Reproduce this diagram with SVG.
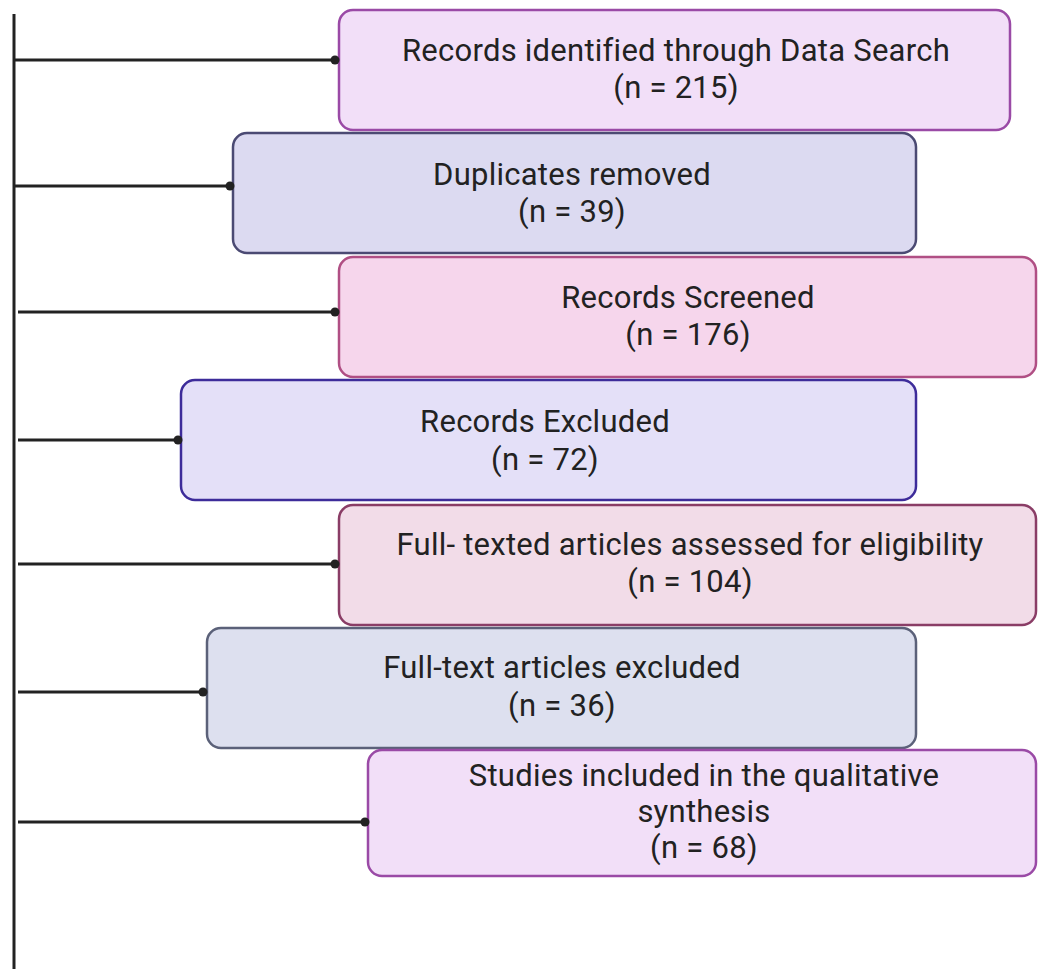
<svg xmlns="http://www.w3.org/2000/svg" width="1038" height="969" viewBox="0 0 1038 969">
<style>
.t{font-family:Roboto,"Liberation Sans",sans-serif;font-size:31px;letter-spacing:0.25px;fill:#222;text-anchor:middle}
.c{stroke:#222;stroke-width:3;fill:none}
.box{stroke-width:2.5}
</style>
<rect width="1038" height="969" fill="#fff"/>
<g id="connectors">
<line class="c" x1="14" y1="14" x2="14" y2="969"/>
<line class="c" x1="14" y1="60" x2="336" y2="60"/>
<line class="c" x1="14" y1="186" x2="231" y2="186"/>
<line class="c" x1="18" y1="312" x2="336" y2="312"/>
<line class="c" x1="18" y1="440" x2="179" y2="440"/>
<line class="c" x1="18" y1="564" x2="336" y2="564"/>
<line class="c" x1="18" y1="692" x2="204" y2="692"/>
<line class="c" x1="18" y1="822" x2="365" y2="822"/>
</g>
<g id="node1">
<rect class="box" x="339" y="10" width="671" height="120" rx="14" fill="#f2dff8" stroke="#9a4aa6"/>
<circle cx="335" cy="60" r="4.5" fill="#222"/>
<text class="t" x="676" y="61">Records identified through Data Search</text>
<text class="t" x="676" y="98">(n = 215)</text>
</g>
<g id="node2">
<rect class="box" x="233" y="133" width="683" height="120" rx="14" fill="#dcdaf1" stroke="#4b4a73"/>
<circle cx="230" cy="186" r="4.5" fill="#222"/>
<text class="t" x="572" y="185">Duplicates removed</text>
<text class="t" x="572" y="222">(n = 39)</text>
</g>
<g id="node3">
<rect class="box" x="339" y="257" width="697" height="120" rx="14" fill="#f6d6ec" stroke="#b04f84"/>
<circle cx="335" cy="312" r="4.5" fill="#222"/>
<text class="t" x="688" y="308">Records Screened</text>
<text class="t" x="688" y="345">(n = 176)</text>
</g>
<g id="node4">
<rect class="box" x="181" y="380" width="735" height="120" rx="14" fill="#e4e0f8" stroke="#3d2c9a"/>
<circle cx="178" cy="440" r="4.5" fill="#222"/>
<text class="t" x="545" y="432">Records Excluded</text>
<text class="t" x="545" y="470">(n = 72)</text>
</g>
<g id="node5">
<rect class="box" x="339" y="505" width="697" height="120" rx="14" fill="#f2dce8" stroke="#8a3d66"/>
<circle cx="335" cy="564" r="4.5" fill="#222"/>
<text class="t" x="690" y="555">Full- texted articles assessed for eligibility</text>
<text class="t" x="690" y="592">(n = 104)</text>
</g>
<g id="node6">
<rect class="box" x="207" y="628" width="709" height="120" rx="14" fill="#dde0ef" stroke="#5b6179"/>
<circle cx="203" cy="692" r="4.5" fill="#222"/>
<text class="t" x="562" y="678">Full-text articles excluded</text>
<text class="t" x="562" y="716">(n = 36)</text>
</g>
<g id="node7">
<rect class="box" x="368" y="750" width="668" height="126" rx="14" fill="#f2dff8" stroke="#9a4aa6"/>
<circle cx="365" cy="822" r="4.5" fill="#222"/>
<text class="t" x="704" y="786">Studies included in the qualitative</text>
<text class="t" x="704" y="822">synthesis</text>
<text class="t" x="704" y="858">(n = 68)</text>
</g>
</svg>
